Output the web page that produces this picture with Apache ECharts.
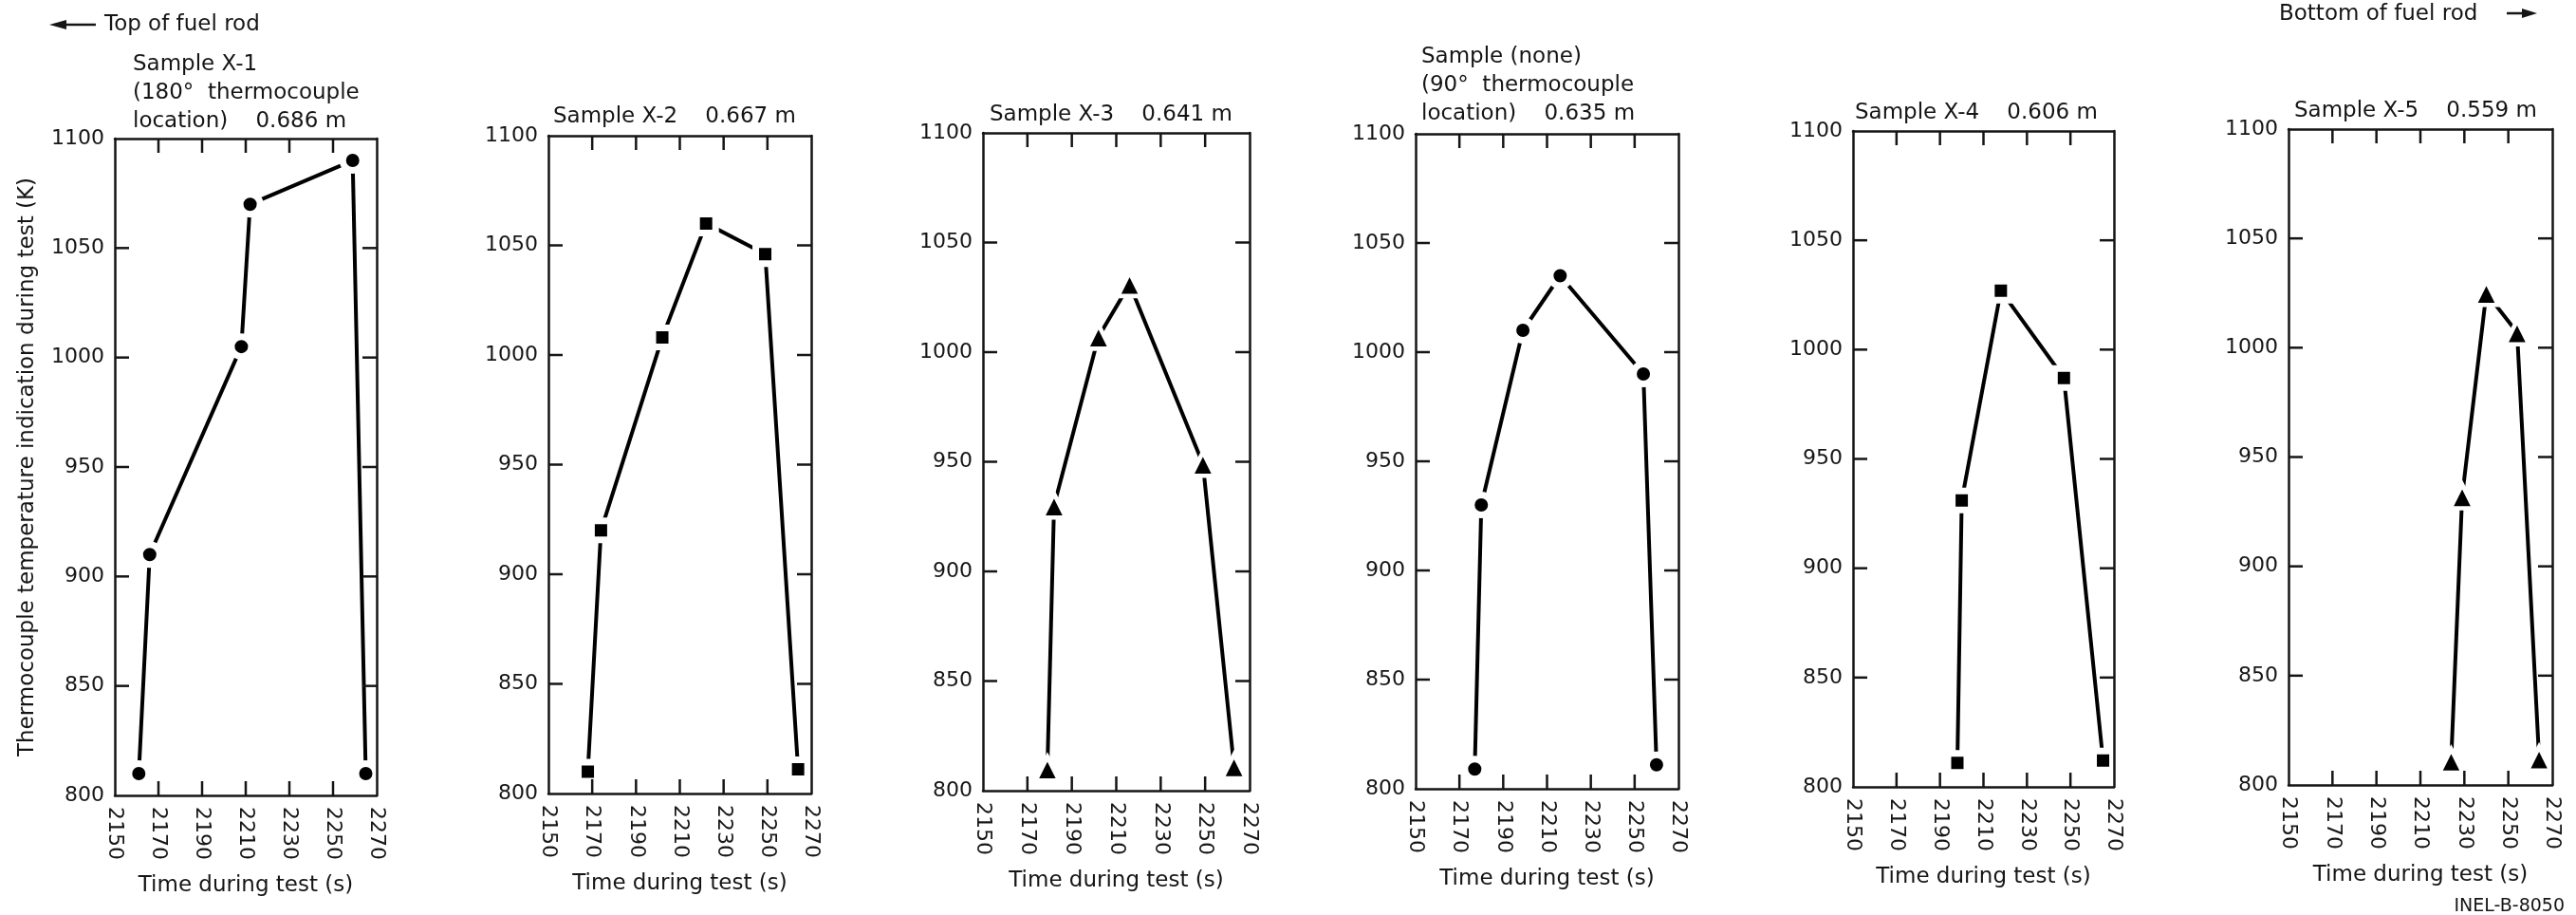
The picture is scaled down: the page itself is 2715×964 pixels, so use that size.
<!DOCTYPE html>
<html><head><meta charset="utf-8">
<script src="https://cdn.jsdelivr.net/npm/echarts@6/dist/echarts.min.js"></script>
<style>html,body{margin:0;padding:0;background:#fff}#c{width:2715px;height:964px}</style>
</head><body><div id="c"></div>
<script>
// ---- data ----
const sampleTitles = [
  "Sample X-1\n(180°  thermocouple\nlocation)    0.686 m",
  "Sample X-2    0.667 m",
  "Sample X-3    0.641 m",
  "Sample (none)\n(90°  thermocouple\nlocation)    0.635 m",
  "Sample X-4    0.606 m",
  "Sample X-5    0.559 m"
];
const timesX1 = [2161, 2166, 2208, 2212, 2259, 2265];
const tempsX1 = [810, 910, 1005, 1070, 1090, 810];
const timesX2 = [2168, 2174, 2202, 2222, 2249, 2264];
const tempsX2 = [810, 920, 1008, 1060, 1046, 811];
const timesX3 = [2179, 2182, 2202, 2216, 2249, 2263];
const tempsX3 = [810, 930, 1007, 1031, 949, 811];
const timesNone = [2177, 2180, 2199, 2216, 2254, 2260];
const tempsNone = [809, 930, 1010, 1035, 990, 811];
const timesX4 = [2198, 2200, 2218, 2247, 2265];
const tempsX4 = [811, 931, 1027, 987, 812];
const timesX5 = [2224, 2229, 2240, 2254, 2264];
const tempsX5 = [811, 932, 1025, 1007, 812];
const xTicks = [2150, 2170, 2190, 2210, 2230, 2250, 2270];
const yTicks = [800, 850, 900, 950, 1000, 1050, 1100];
const xAxisName = "Time during test (s)";
const yAxisName = "Thermocouple temperature indication during test (K)";
const topNote = "Top of fuel rod";
const bottomNote = "Bottom of fuel rod";
const figureId = "INEL-B-8050";

const panelTimes = [timesX1, timesX2, timesX3, timesNone, timesX4, timesX5];
const panelTemps = [tempsX1, tempsX2, tempsX3, tempsNone, tempsX4, tempsX5];
const panelMarkers = ['circle', 'rect', 'triangle', 'circle', 'rect', 'triangle'];

// ---- layout / style ----
const layout = [
  {left: 121, top: 146, width: 276, height: 692, tl: 140, tt: 53},
  {left: 578, top: 143, width: 277, height: 693, tl: 583, tt: 108},
  {left: 1036, top: 140, width: 281, height: 693, tl: 1043, tt: 106},
  {left: 1492, top: 141, width: 277, height: 690, tl: 1498, tt: 45},
  {left: 1953, top: 138, width: 275, height: 691, tl: 1955, tt: 104},
  {left: 2412, top: 136, width: 278, height: 691, tl: 2418, tt: 102}
];
const FONT = 'DejaVu Sans';
const INK = '#151515';
const TICK_LEN = 15;
const symStyle = {
  circle: {size: 21, border: 7},
  rect: {size: 20, border: 7},
  triangle: {size: 25, border: 4.6}
};
const plain = v => String(v);
const xMin = xTicks[0], xMax = xTicks[xTicks.length - 1], xStep = xTicks[1] - xTicks[0];
const yMin = yTicks[0], yMax = yTicks[yTicks.length - 1], yStep = yTicks[1] - yTicks[0];
const mkLine = () => ({show: true, onZero: false, lineStyle: {color: INK, width: 2.5}});
const tickSeg = (x1, y1, x2, y2) => ({type: 'line', shape: {x1, y1, x2, y2}, style: {stroke: INK, lineWidth: 2.5}});

const grids = [], xAxes = [], yAxes = [], series = [], titles = [];
layout.forEach((L, k) => {
  grids.push({left: L.left, top: L.top, width: L.width, height: L.height, show: false});
  xAxes.push({
    gridIndex: k, type: 'value', min: xMin, max: xMax, interval: xStep, position: 'bottom', z: 3,
    axisLine: mkLine(), axisTick: {show: false},
    axisLabel: {formatter: plain, rotate: -90, margin: 12, fontSize: 22, fontFamily: FONT, color: INK},
    splitLine: {show: false},
    name: xAxisName, nameLocation: 'middle', nameGap: 84,
    nameTextStyle: {fontSize: 23, fontFamily: FONT, color: INK}
  });
  xAxes.push({
    gridIndex: k, type: 'value', min: xMin, max: xMax, interval: xStep, position: 'top', z: 3,
    axisLine: mkLine(), axisTick: {show: false},
    axisLabel: {show: false}, splitLine: {show: false}
  });
  const yLeft = {
    gridIndex: k, type: 'value', min: yMin, max: yMax, interval: yStep, position: 'left', z: 3,
    axisLine: mkLine(), axisTick: {show: false},
    axisLabel: {formatter: plain, margin: 11, fontSize: 22, fontFamily: FONT, color: INK},
    splitLine: {show: false}
  };
  if (k === 0) {
    Object.assign(yLeft, {name: yAxisName, nameLocation: 'middle', nameGap: 80,
      nameTextStyle: {fontSize: 23, fontFamily: FONT, color: INK}});
  }
  yAxes.push(yLeft);
  yAxes.push({
    gridIndex: k, type: 'value', min: yMin, max: yMax, interval: yStep, position: 'right', z: 3,
    axisLine: mkLine(), axisTick: {show: false},
    axisLabel: {show: false}, splitLine: {show: false}
  });
  const m = panelMarkers[k];
  const st = symStyle[m];
  series.push({
    type: 'line', xAxisIndex: 2 * k, yAxisIndex: 2 * k, z: 2,
    data: panelTimes[k].map((t, i) => [t, panelTemps[k][i]]),
    symbol: m, symbolSize: st.size, showAllSymbol: true,
    lineStyle: {color: '#000', width: 4},
    itemStyle: {color: '#000', borderColor: '#fff', borderWidth: st.border},
    emphasis: {disabled: true}, silent: true, animation: false
  });
  // inward tick marks on all four sides, placed through the axes' scales
  series.push({
    type: 'custom', xAxisIndex: 2 * k, yAxisIndex: 2 * k, z: 4, silent: true, clip: false,
    data: xTicks.slice(1, -1).map(v => [v, yMin]),
    encode: {x: 0, y: 1},
    renderItem: (params, api) => {
      const v = api.value(0);
      const b = api.coord([v, yMin]), t = api.coord([v, yMax]);
      return {type: 'group', children: [tickSeg(b[0], b[1], b[0], b[1] - TICK_LEN), tickSeg(t[0], t[1], t[0], t[1] + TICK_LEN)]};
    }
  });
  series.push({
    type: 'custom', xAxisIndex: 2 * k, yAxisIndex: 2 * k, z: 4, silent: true, clip: false,
    data: yTicks.slice(1, -1).map(v => [xMin, v]),
    encode: {x: 0, y: 1},
    renderItem: (params, api) => {
      const v = api.value(1);
      const l = api.coord([xMin, v]), r = api.coord([xMax, v]);
      return {type: 'group', children: [tickSeg(l[0], l[1], l[0] + TICK_LEN, l[1]), tickSeg(r[0], r[1], r[0] - TICK_LEN, r[1])]};
    }
  });
  titles.push({
    text: sampleTitles[k], left: L.tl, top: L.tt, padding: 0,
    textStyle: {fontSize: 23, fontWeight: 'normal', fontFamily: FONT, color: INK, lineHeight: 30}
  });
});

const graphic = [
  {type: 'line', shape: {x1: 64, y1: 26, x2: 101, y2: 26}, style: {stroke: INK, lineWidth: 2.5}},
  {type: 'polygon', shape: {points: [[52, 26], [70, 21], [70, 31]]}, style: {fill: INK}},
  {type: 'text', x: 110, y: 26, style: {text: topNote, fontSize: 23, fontFamily: FONT, fill: INK, verticalAlign: 'middle'}},
  {type: 'text', x: 2402, y: 15, style: {text: bottomNote, fontSize: 23, fontFamily: FONT, fill: INK, verticalAlign: 'middle'}},
  {type: 'line', shape: {x1: 2642, y1: 14, x2: 2662, y2: 14}, style: {stroke: INK, lineWidth: 2.5}},
  {type: 'polygon', shape: {points: [[2674, 14], [2658, 9], [2658, 19]]}, style: {fill: INK}},
  {type: 'text', x: 2703, y: 955, style: {text: figureId, fontSize: 19, fontFamily: FONT, fill: INK, align: 'right', verticalAlign: 'middle'}}
];

const chart = echarts.init(document.getElementById('c'), null, {renderer: 'canvas'});
chart.setOption({
  backgroundColor: '#fff',
  animation: false,
  title: titles,
  grid: grids,
  xAxis: xAxes,
  yAxis: yAxes,
  series: series,
  graphic: graphic
});
</script></body></html>
